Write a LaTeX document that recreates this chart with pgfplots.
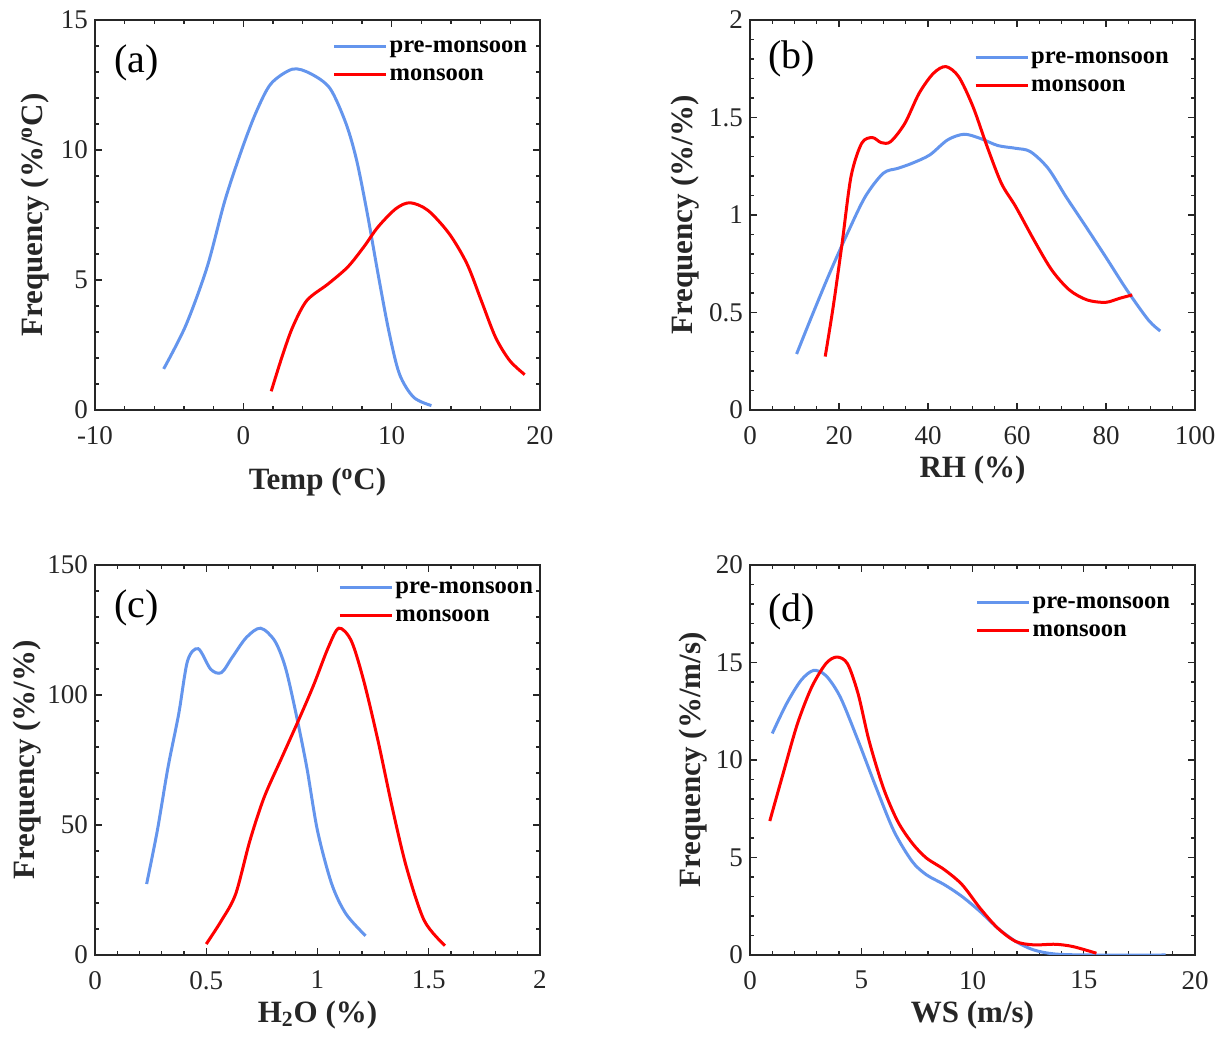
\documentclass[border=0pt]{standalone}
\usepackage{fontspec}
\setmainfont{Liberation Serif}
\usepackage{pgfplots}
\pgfplotsset{compat=1.18}
\definecolor{pre}{RGB}{100,149,237}
\definecolor{mon}{RGB}{255,0,0}
\definecolor{axc}{RGB}{38,38,38}
\pgfplotsset{
 panel/.style={
  scale only axis, width=222.5pt, height=195pt, anchor=south west,
  axis line style={axc, line width=0.7pt},
  every tick/.style={axc, line width=0.6pt},
  major tick length=3.5pt, minor tick length=2pt,
  tick align=inside, xtick pos=both, ytick pos=both,
  tick label style={font=\fontsize{13.5}{15}\selectfont, text=axc},
  xticklabel shift=4.5pt,
  label style={font=\fontsize{15.5}{18}\selectfont\bfseries, text=axc},
  legend cell align=left,
  legend style={draw=none, fill=none, font=\fontsize{12.3}{14}\selectfont\bfseries, anchor=north west, inner sep=0pt, row sep=0pt,
    nodes={inner sep=1pt, text height=9pt, text depth=3pt}},
  legend image code/.code={\draw[#1] (0pt,0pt) -- (26pt,0pt);},
  every axis plot/.append style={line width=1.5pt, smooth, tension=0.5, mark=none},
 }
}
\begin{document}
\begin{tikzpicture}
\useasboundingbox (0,0) rectangle (611pt,521.5pt);
% (a)
\begin{axis}[panel, at={(47.5pt,316.5pt)}, xmin=-10, xmax=20, ymin=0, ymax=15,
  xtick={-10,0,10,20}, xticklabels={-10,0,10,20}, ytick={0,5,10,15}, yticklabels={0,5,10,15},
  minor x tick num=4, minor y tick num=4,
  xlabel={Temp (\textsuperscript{o}C)}, ylabel={Frequency (\%/\textsuperscript{o}C)},
  xlabel style={at={(axis description cs:0.5,-0.185)}, anchor=center},
  ylabel style={at={(axis description cs:-0.135,0.5)}, anchor=center},
  legend style={at={(0.533,0.97)}}]
\addplot[pre] coordinates {(-5.37,1.58) (-3.88,3.25) (-2.44,5.5) (-1.24,8.06) (-0.04,10.12) (0.92,11.53) (1.88,12.56) (3.32,13.11) (4.52,12.94) (5.84,12.37) (6.92,11.02) (7.64,9.6) (8.36,7.55) (9.08,5.24) (9.8,3.06) (10.52,1.39) (11.48,0.49) (12.68,0.17)};
\addlegendentry{pre-monsoon}
\addplot[mon] coordinates {(1.88,0.72) (2.6,2.03) (3.32,3.18) (4.28,4.21) (5.72,4.85) (7.04,5.5) (8.12,6.27) (9.08,7.04) (10.28,7.74) (11.24,7.97) (12.44,7.68) (13.88,6.78) (15.08,5.62) (16.04,4.21) (17.0,2.8) (17.96,1.9) (18.97,1.36)};
\addlegendentry{monsoon}
\node[font=\fontsize{20}{22}\selectfont] at (rel axis cs:0.094,0.89) {(a)};
\end{axis}
% (b)
\begin{axis}[panel, at={(375pt,316.5pt)}, xmin=0, xmax=100, ymin=0, ymax=2,
  xtick={0,20,40,60,80,100}, xticklabels={0,20,40,60,80,100}, ytick={0,0.5,1,1.5,2}, yticklabels={0,0.5,1,1.5,2},
  minor x tick num=3, minor y tick num=4,
  xlabel={RH (\%)}, ylabel={Frequency (\%/\%)},
  xlabel style={at={(axis description cs:0.5,-0.154)}, anchor=center},
  ylabel style={at={(axis description cs:-0.146,0.5)}, anchor=center},
  legend style={at={(0.503,0.94)}}]
\addplot[pre] coordinates {(10.47,0.287) (13.85,0.479) (17.87,0.70) (21.9,0.906) (25.9,1.094) (29.95,1.214) (33.2,1.239) (36.4,1.265) (40.4,1.308) (44.4,1.385) (48.1,1.414) (51.7,1.393) (55.7,1.356) (59.7,1.342) (63.0,1.325) (67.0,1.239) (71.0,1.094) (75.0,0.957) (79.9,0.786) (84.7,0.615) (89.5,0.462) (92.2,0.405)};
\addlegendentry{pre-monsoon}
\addplot[mon] coordinates {(16.9,0.274) (18.7,0.530) (20.7,0.855) (22.7,1.197) (25.1,1.368) (27.5,1.397) (29.5,1.371) (31.6,1.376) (34.8,1.47) (38.0,1.624) (41.2,1.726) (44.0,1.761) (46.9,1.709) (50.1,1.556) (53.3,1.35) (56.5,1.162) (59.7,1.043) (63.8,0.872) (67.8,0.718) (71.8,0.615) (75.8,0.564) (79.9,0.552) (83.1,0.573) (85.9,0.59)};
\addlegendentry{monsoon}
\node[font=\fontsize{20}{22}\selectfont] at (rel axis cs:0.094,0.90) {(b)};
\end{axis}
% (c)
\begin{axis}[panel, at={(47.5pt,44pt)}, xmin=0, xmax=2, ymin=0, ymax=150,
  xtick={0,0.5,1,1.5,2}, xticklabels={0,0.5,1,1.5,2}, ytick={0,50,100,150}, yticklabels={0,50,100,150},
  minor x tick num=4, minor y tick num=4,
  xlabel={H\textsubscript{2}O (\%)}, ylabel={Frequency (\%/\%)},
  xlabel style={at={(axis description cs:0.5,-0.154)}, anchor=center},
  ylabel style={at={(axis description cs:-0.153,0.5)}, anchor=center},
  legend style={at={(0.546,0.978)}}]
\addplot[pre] coordinates {(0.232,27.3) (0.28,47.8) (0.328,72.1) (0.376,92.6) (0.416,113.1) (0.464,117.8) (0.52,109.9) (0.568,108.6) (0.616,114.4) (0.68,122.1) (0.744,125.7) (0.808,120.8) (0.856,110.5) (0.904,92.6) (0.952,72.1) (1.0,47.8) (1.064,27.3) (1.128,15.8) (1.216,7.4)};
\addlegendentry{pre-monsoon}
\addplot[mon] coordinates {(0.5,4.2) (0.568,13.2) (0.632,23.4) (0.696,43.9) (0.76,60.6) (0.84,76.0) (0.92,91.3) (0.984,104.1) (1.048,118.2) (1.096,125.7) (1.152,120.8) (1.208,105.4) (1.272,82.4) (1.336,56.7) (1.4,33.7) (1.48,13.2) (1.573,3.6)};
\addlegendentry{monsoon}
\node[font=\fontsize{20}{22}\selectfont] at (rel axis cs:0.094,0.89) {(c)};
\end{axis}
% (d)
\begin{axis}[panel, at={(375pt,44pt)}, xmin=0, xmax=20, ymin=0, ymax=20,
  xtick={0,5,10,15,20}, xticklabels={0,5,10,15,20}, ytick={0,5,10,15,20}, yticklabels={0,5,10,15,20},
  minor x tick num=4, minor y tick num=4,
  xlabel={WS (m/s)}, ylabel={Frequency (\%/m/s)},
  xlabel style={at={(axis description cs:0.5,-0.154)}, anchor=center},
  ylabel style={at={(axis description cs:-0.128,0.5)}, anchor=center},
  legend style={at={(0.506,0.94)}}]
\addplot[pre] coordinates {(1.0,11.36) (1.64,12.88) (2.29,14.08) (2.85,14.59) (3.41,14.33) (4.06,13.22) (4.86,10.99) (5.67,8.58) (6.47,6.35) (7.28,4.81) (7.92,4.12) (8.73,3.61) (9.53,3.0) (10.34,2.23) (11.14,1.37) (11.95,0.69) (12.75,0.26) (13.72,0.05) (15.33,0) (18.68,0)};
\addlegendentry{pre-monsoon}
\addplot[mon] coordinates {(0.89,6.87) (1.48,9.27) (2.13,11.85) (2.77,13.73) (3.41,14.94) (3.9,15.28) (4.38,14.94) (4.86,13.39) (5.35,10.99) (5.99,8.58) (6.63,6.87) (7.28,5.75) (7.92,4.98) (8.73,4.38) (9.53,3.61) (10.34,2.40) (11.14,1.37) (11.95,0.69) (12.75,0.52) (13.72,0.55) (14.52,0.43) (15.57,0.09)};
\addlegendentry{monsoon}
\node[font=\fontsize{20}{22}\selectfont] at (rel axis cs:0.094,0.88) {(d)};
\end{axis}
\end{tikzpicture}
\end{document}
